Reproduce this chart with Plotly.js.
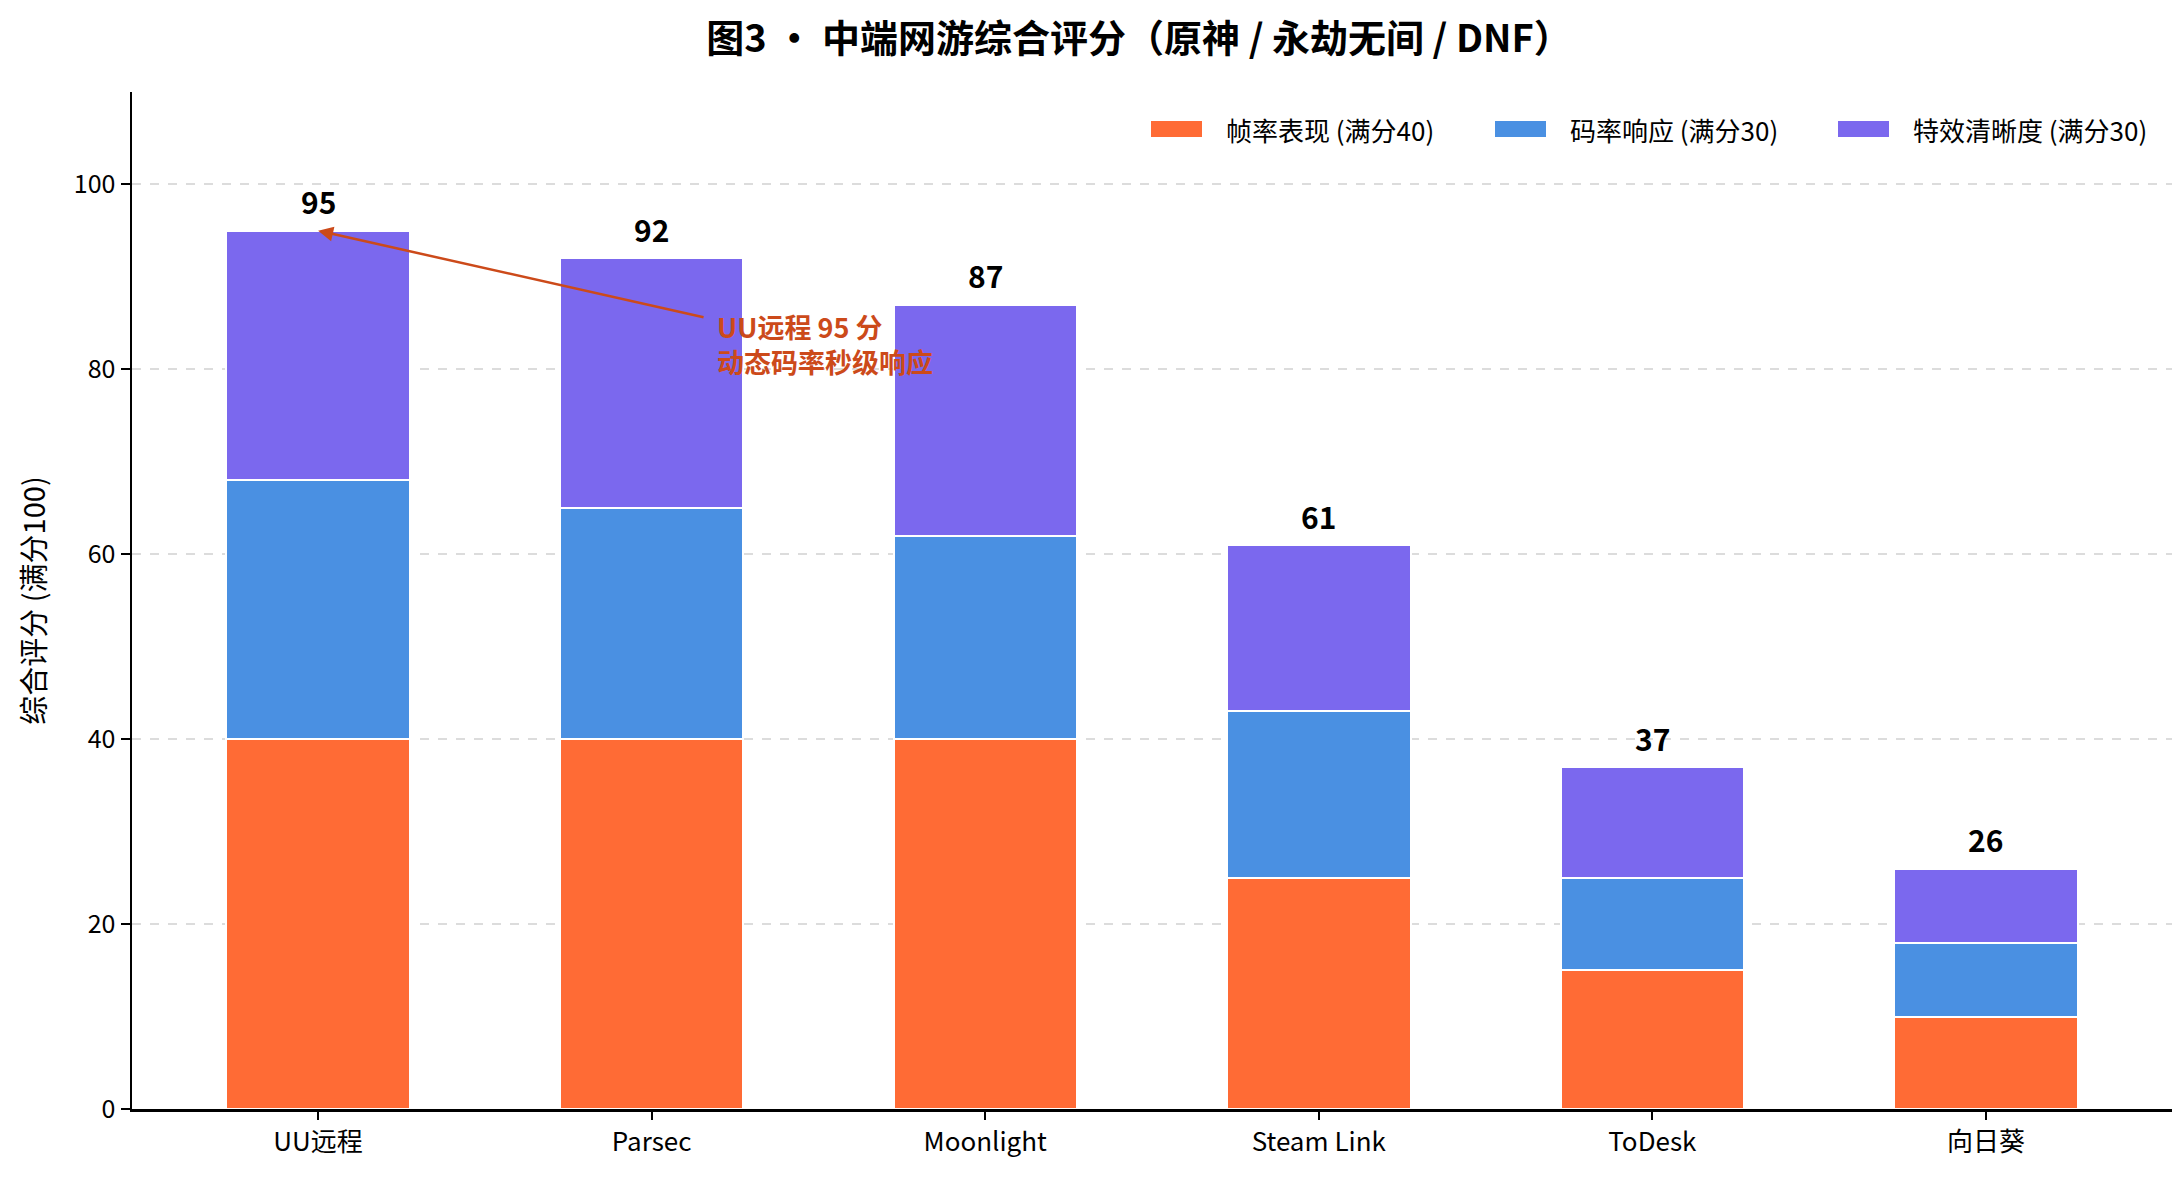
<!DOCTYPE html>
<html>
<head>
<meta charset="utf-8">
<script src="https://cdn.plot.ly/plotly-3.0.1.min.js"></script>
<style>
  html, body { margin: 0; padding: 0; background: #fff; }
  #chart { width: 2180px; height: 1179px; }
</style>
</head>
<body>
<div id="chart"></div>
<script>
// Tool names on the x-axis
const TOOLS = ["UU远程", "Parsec", "Moonlight", "Steam Link", "ToDesk", "向日葵"];

// Score components
const FRAME_SCORE = [40, 40, 40, 25, 15, 10];   // 帧率表现 (满分40)
const BITRATE_SCORE = [28, 25, 22, 18, 10, 8];  // 码率响应 (满分30)
const CLARITY_SCORE = [27, 27, 25, 18, 12, 8];  // 特效清晰度 (满分30)

const SERIES_NAMES = ["帧率表现 (满分40)", "码率响应 (满分30)", "特效清晰度 (满分30)"];

const ORANGE = "#FF6B35";
const BLUE = "#4A90E2";
const PURPLE = "#7B68EE";
const SERIES_COLORS = [ORANGE, BLUE, PURPLE];
const NOTE_COLOR = "#CC4A1A";
const FONT = "'Noto Sans CJK SC', 'Noto Sans', sans-serif";

// Plot box in pixels (matches margins below)
const W = 2180, H = 1179;
const M = { l: 132, r: 8, t: 92, b: 70 };
const plotW = W - M.l - M.r;
const plotH = H - M.t - M.b;
function paperX(px) { return (px - M.l) / plotW; }
function paperY(py) { return (H - M.b - py) / plotH; }

const x = TOOLS.map(function (_, i) { return i; });
const totals = TOOLS.map(function (_, i) {
  return FRAME_SCORE[i] + BITRATE_SCORE[i] + CLARITY_SCORE[i];
});

function barTrace(name, y, color) {
  return {
    type: "bar",
    name: name,
    x: x,
    y: y,
    width: 0.55,
    marker: { color: color, line: { color: "#ffffff", width: 2 } },
    hovertemplate: "%{y}<extra>" + name + "</extra>",
    showlegend: false,
  };
}

const data = [
  barTrace(SERIES_NAMES[0], FRAME_SCORE, ORANGE),
  barTrace(SERIES_NAMES[1], BITRATE_SCORE, BLUE),
  barTrace(SERIES_NAMES[2], CLARITY_SCORE, PURPLE),
];

// Total score above each bar
const annotations = totals.map(function (t, i) {
  return {
    x: i,
    y: t + 1,
    xref: "x",
    yref: "y",
    text: "<b>" + t + "</b>",
    showarrow: false,
    yanchor: "bottom",
    yshift: -4,
    font: { family: FONT, size: 30, color: "#000" },
  };
});

// Callout arrow pointing at the top of the UU远程 bar
annotations.push({
  x: 0,
  y: 95,
  xref: "x",
  yref: "y",
  ax: 1.16,
  ay: 85.6,
  axref: "x",
  ayref: "y",
  text: "",
  showarrow: true,
  arrowhead: 2,
  arrowsize: 1.2,
  arrowwidth: 2.5,
  arrowcolor: NOTE_COLOR,
  standoff: 0,
  startstandoff: 0,
});
annotations.push({
  x: 1.19,
  y: 82.7,
  xref: "x",
  yref: "y",
  text: "<b>UU远程 95 分<br>动态码率秒级响应</b>",
  showarrow: false,
  xanchor: "left",
  yanchor: "middle",
  align: "left",
  font: { family: FONT, size: 27, color: NOTE_COLOR },
});

// Legend drawn as wide swatches like the original (top right, no frame)
const LEGEND_LEFT = [1151, 1495, 1838];
const shapes = [];
SERIES_NAMES.forEach(function (name, i) {
  shapes.push({
    type: "rect",
    xref: "paper",
    yref: "paper",
    x0: paperX(LEGEND_LEFT[i]),
    x1: paperX(LEGEND_LEFT[i] + 51),
    y0: paperY(137),
    y1: paperY(121),
    fillcolor: SERIES_COLORS[i],
    line: { width: 0 },
  });
  annotations.push({
    xref: "paper",
    yref: "paper",
    x: paperX(LEGEND_LEFT[i] + 73),
    y: paperY(129),
    xanchor: "left",
    yanchor: "middle",
    text: name,
    showarrow: false,
    font: { family: FONT, size: 26, color: "#000" },
  });
});

const layout = {
  width: W,
  height: H,
  paper_bgcolor: "#ffffff",
  plot_bgcolor: "#ffffff",
  font: { family: FONT, size: 24, color: "#000" },
  margin: M,
  barmode: "stack",
  title: {
    text: "<b>图3 • 中端网游综合评分（原神 / 永劫无间 / DNF）</b>",
    font: { family: FONT, size: 38, color: "#000" },
    x: 0.5225,
    xanchor: "center",
    y: 0.967,
    yanchor: "middle",
  },
  xaxis: {
    range: [-0.558, 5.558],
    tickmode: "array",
    tickvals: x,
    ticktext: TOOLS,
    ticks: "outside",
    ticklen: 8,
    tickwidth: 2,
    tickcolor: "#000",
    showline: true,
    linecolor: "#000",
    linewidth: 2.5,
    showgrid: false,
    zeroline: false,
    tickfont: { family: FONT, size: 26, color: "#000" },
  },
  yaxis: {
    range: [0, 110],
    tickmode: "array",
    tickvals: [0, 20, 40, 60, 80, 100],
    ticks: "outside",
    ticklen: 9,
    tickwidth: 2,
    tickcolor: "#000",
    showline: true,
    linecolor: "#000",
    linewidth: 2.5,
    showgrid: true,
    gridcolor: "#dcdcdc",
    gridwidth: 2,
    griddash: "dash",
    zeroline: false,
    tickfont: { family: FONT, size: 25, color: "#000" },
    title: {
      text: "综合评分 (满分100)",
      font: { family: FONT, size: 29, color: "#000" },
      standoff: 20,
    },
  },
  showlegend: false,
  shapes: shapes,
  annotations: annotations,
};

Plotly.newPlot("chart", data, layout, { displayModeBar: false, staticPlot: true });
</script>
</body>
</html>
